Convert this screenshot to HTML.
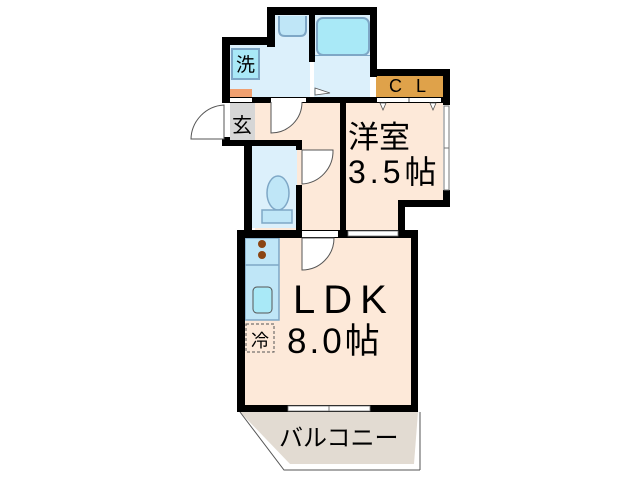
<!DOCTYPE html>
<html><head><meta charset="utf-8"><style>
html,body{margin:0;padding:0;background:#fff;width:640px;height:480px;overflow:hidden}
svg text{font-family:"Liberation Sans","Noto Sans CJK JP",sans-serif}
</style></head><body>
<svg width="640" height="480" viewBox="0 0 640 480" xmlns="http://www.w3.org/2000/svg">
<polygon points="240,412 418,412 414,464 290,464" fill="#e2dbd2"/>
<polyline points="240,412 284,470 420,470" fill="none" stroke="#555" stroke-width="1"/>
<line x1="420" y1="412" x2="420" y2="470" stroke="#555" stroke-width="1"/>
<rect x="245" y="238" width="166" height="167" fill="#fde9d9"/>
<polygon points="346,103 443,103 443,200 400,200 400,232 346,232" fill="#fde9d9"/>
<rect x="255" y="103" width="85" height="132" fill="#fde9d9"/>
<rect x="230" y="103" width="25" height="37" fill="#d6d6d6"/>
<rect x="252" y="143" width="45" height="85" fill="#dcf0fb"/>
<rect x="230" y="45" width="80" height="55" fill="#dcf0fb"/>
<rect x="273" y="13" width="42" height="40" fill="#dcf0fb"/>
<rect x="313" y="13" width="57" height="87" fill="#dcf0fb"/>
<rect x="376" y="75" width="67" height="22" fill="#dfa24a"/>
<rect x="230" y="89" width="22" height="8" fill="#f0a070"/>
<rect x="317" y="18" width="52" height="37" rx="6" fill="#a9e9f7" stroke="#7ea7c6" stroke-width="2"/>
<rect x="313" y="55" width="57" height="1" fill="#7ea7c6"/>
<path d="M279,16 V30 Q279,36 285,36 H300 Q306,36 306,30 V16" fill="#bfe6f7" stroke="#7ea7c6" stroke-width="2"/>
<rect x="232" y="49" width="27" height="30" fill="#a9e9f7" stroke="#7ea7c6" stroke-width="2"/>
<text x="245.5" y="71" font-size="19" text-anchor="middle">洗</text>
<ellipse cx="278" cy="193" rx="11" ry="17" fill="#bfe6f7" stroke="#7ea7c6" stroke-width="1.5"/>
<rect x="262" y="210" width="30" height="13" fill="#bfe6f7" stroke="#7ea7c6" stroke-width="1.5"/>
<rect x="245" y="238" width="34" height="82" fill="#bfe6f7" stroke="#7ea7c6" stroke-width="1.5"/>
<line x1="245" y1="265" x2="279" y2="265" stroke="#7ea7c6" stroke-width="1.5"/>
<circle cx="262" cy="244" r="4" fill="#8b4513"/><circle cx="262" cy="255" r="4" fill="#8b4513"/>
<rect x="253" y="287" width="19" height="26" rx="4" fill="#a9e9f7" stroke="#555" stroke-width="1"/>
<rect x="246" y="324" width="28" height="28" fill="none" stroke="#555" stroke-width="1" stroke-dasharray="3,2"/>
<text x="260" y="347" font-size="18" text-anchor="middle">冷</text>
<g fill="#000">
<rect x="267" y="7" width="110" height="8"/>
<rect x="267" y="7" width="8" height="40"/>
<rect x="222" y="37" width="53" height="8"/>
<rect x="222" y="37" width="8" height="60"/>
<rect x="309" y="7" width="6" height="55"/>
<rect x="370" y="7" width="7" height="70"/>
<rect x="370" y="69" width="80" height="7"/>
<rect x="443" y="69" width="7" height="36"/>
<rect x="443" y="190" width="7" height="17"/>
<rect x="398" y="200" width="52" height="7"/>
<rect x="398" y="200" width="7" height="38"/>
<rect x="222" y="97" width="228" height="6"/>
<rect x="222" y="137" width="8" height="8"/>
<rect x="222" y="140" width="80" height="6"/>
<rect x="244" y="140" width="8" height="95"/>
<rect x="296" y="140" width="6" height="10"/>
<rect x="296" y="185" width="6" height="50"/>
<rect x="340" y="100" width="6" height="135"/>
<rect x="237" y="230" width="181" height="8"/>
<rect x="237" y="230" width="8" height="182"/>
<rect x="411" y="230" width="7" height="182"/>
<rect x="237" y="405" width="181" height="7"/>
</g>
<rect x="310" y="62" width="4" height="35" fill="#fff"/>
<polygon points="315,88 330,93 315,95" fill="#fff" stroke="#555" stroke-width="0.8"/>
<rect x="271" y="98" width="35" height="4" fill="#fff"/>
<path d="M271,102 V133 A31,31 0 0 0 302,102" fill="#fff" stroke="#555" stroke-width="1"/>
<rect x="230" y="98" width="22" height="4" fill="#fff"/>
<rect x="222" y="103" width="8" height="34" fill="#fff"/>
<path d="M224,105 A35,35 0 0 0 191,139 H224 Z" fill="#fff" stroke="#555" stroke-width="1"/>
<path d="M302,150 V184 A33,33 0 0 0 333,150 Z" fill="#fff" stroke="#555" stroke-width="1"/>
<rect x="377" y="98" width="64" height="4" fill="#fff"/>
<line x1="409" y1="98" x2="409" y2="102" stroke="#555"/>
<polygon points="380,103 386,103 383,110" fill="#fff" stroke="#555" stroke-width="0.8"/>
<polygon points="430,103 436,103 433,110" fill="#fff" stroke="#555" stroke-width="0.8"/>
<rect x="444" y="106" width="5" height="84" fill="#fff" stroke="#777" stroke-width="1"/>
<line x1="444" y1="148" x2="449" y2="148" stroke="#777"/>
<rect x="302" y="231" width="36" height="6" fill="#fff"/>
<path d="M302,238 V270 A32,32 0 0 0 334,238 Z" fill="#fff" stroke="#555" stroke-width="1"/>
<rect x="348" y="231" width="50" height="5" fill="#fff" stroke="#777" stroke-width="0.8"/>
<rect x="288" y="406" width="82" height="5" fill="#fff" stroke="#777" stroke-width="0.8"/>
<line x1="329" y1="406" x2="329" y2="411" stroke="#777"/>
<text x="389" y="92" font-size="18" letter-spacing="14">CL</text>
<text x="242" y="132" font-size="20" text-anchor="middle">玄</text>
<text x="348" y="148" font-size="31">洋室</text>
<text x="348" y="183" font-size="32" letter-spacing="4">3.5帖</text>
<text x="293" y="313" font-size="40" letter-spacing="8">LDK</text>
<text x="287" y="353" font-size="35" letter-spacing="3">8.0帖</text>
<text x="279" y="446" font-size="24">バルコニー</text>
</svg>
</body></html>
